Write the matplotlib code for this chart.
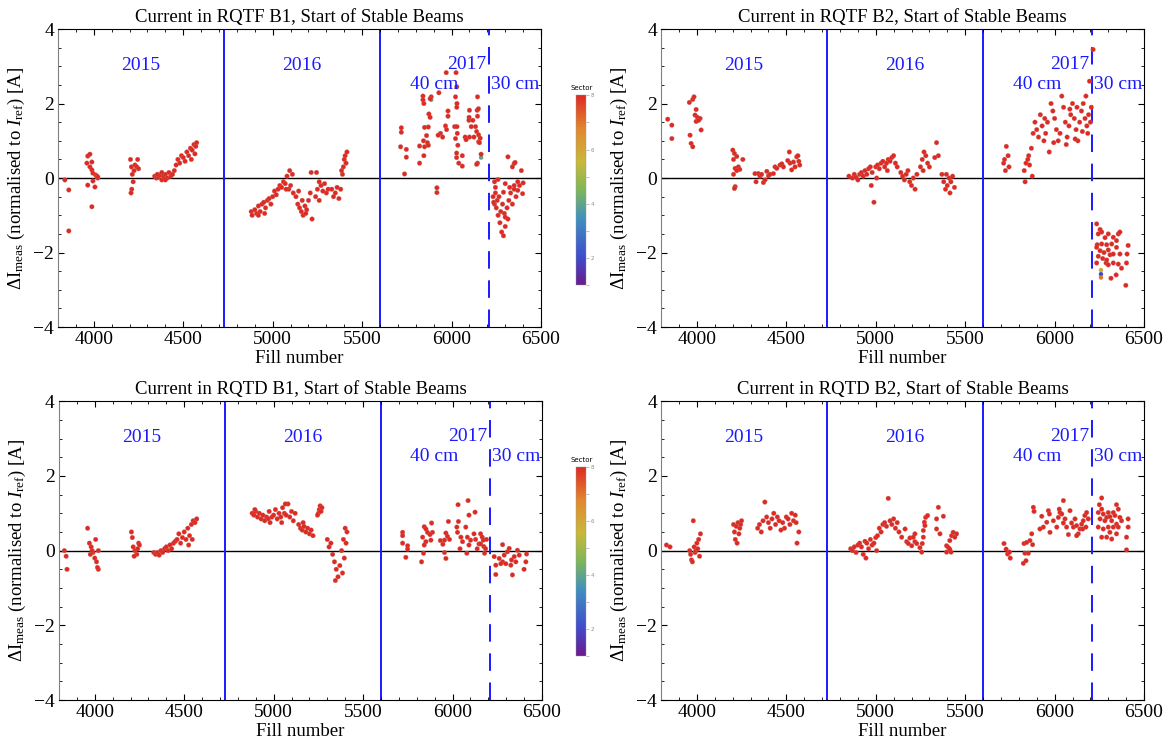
import numpy as np
import matplotlib
matplotlib.use('Agg')
import matplotlib.pyplot as plt
from matplotlib.colors import LinearSegmentedColormap, Normalize
from matplotlib.cm import ScalarMappable
from matplotlib.ticker import MultipleLocator

# ---- data: (fill number, delta I [A]) ----
# RQTF B1
rqtf_b1_fill = [3838, 3860, 3860, 3966, 3978, 3961, 3989, 3978, 3989, 3995, 4011, 4017, 4022, 3995, 3966,
                4006, 3989, 4022,
                4205, 4210, 4215, 4220, 4212, 4230, 4240, 4250, 4225, 4208, 4245,
                4340, 4350, 4360, 4370, 4380, 4390, 4400, 4410, 4420, 4430, 4440, 4450, 4355, 4400, 4380,
                4460, 4470, 4480, 4490, 4500, 4510, 4520, 4530, 4540, 4550, 4560, 4570, 4575, 4545, 4565,
                4880, 4885, 4900, 4910, 4920, 4930, 4940, 4950, 4960, 4970, 4980, 4990, 5000, 5010, 5020,
                5030, 5040, 5050, 5060, 5070, 5080, 5090, 5100, 5110, 5095, 5075, 5115, 4955, 4920,
                5130, 5140, 5150, 5160, 5170, 5180, 5190, 5200, 5210, 5220, 5165, 5145, 5185, 5215,
                5240, 5250, 5260, 5270, 5280, 5290, 5300, 5310, 5245, 5260,
                5330, 5340, 5350, 5360, 5370, 5380, 5390, 5395, 5400, 5405, 5410, 5415, 5385,
                5719, 5719, 5715, 5747, 5747, 5737, 5840, 5840, 5886, 5880, 5845, 5929, 5873, 5880, 5970,
                6025, 6029, 6022, 6030, 6029, 5980, 5980, 5966, 5972, 5938, 5950, 5925, 5849, 5870, 5860,
                5843, 5865, 5821, 5849, 5870, 5845, 5821, 5918, 5918, 6017, 6030, 6032, 6022, 6035, 6028,
                6028, 6040, 6060, 6060, 6100, 6098, 6097, 6119, 6110, 6134, 6143, 6145, 6145, 6150, 6140,
                6125, 6100, 6151, 6160, 6151, 6156, 6145, 6140, 6165, 6076, 6081,
                6315, 6350, 6355, 6340, 6259, 6240, 6300, 6325, 6350, 6400, 6397, 6370, 6290, 6245, 6232,
                6240, 6250, 6260, 6270, 6280, 6290, 6300, 6255, 6265, 6275, 6285, 6295, 6310, 6320, 6330,
                6340, 6350, 6360, 6370, 6380, 6390, 6300, 6315, 6245, 6235]
rqtf_b1_val = [-0.05, -0.32, -1.42, 0.59, 0.64, 0.40, 0.43, 0.30, 0.22, 0.13, 0.08, 0.05, 0.00, -0.08, -0.19,
               -0.24, -0.77, 0.03,
               0.50, 0.30, 0.10, -0.10, -0.30, 0.35, 0.30, 0.25, 0.20, -0.40, 0.50,
               0.05, 0.00, 0.02, 0.08, -0.05, 0.05, 0.10, 0.00, 0.15, 0.05, 0.10, 0.20, 0.10, -0.05, 0.15,
               0.35, 0.50, 0.40, 0.60, 0.55, 0.45, 0.70, 0.60, 0.80, 0.75, 0.90, 0.85, 0.95, 0.50, 0.65,
               -0.90, -1.00, -0.85, -0.95, -0.75, -0.90, -0.70, -0.65, -0.80, -0.60, -0.55, -0.70, -0.50, -0.35, -0.45,
               -0.30, -0.20, -0.25, -0.10, -0.15, 0.05, -0.30, -0.20, 0.10, 0.20, -0.30, -0.40, -0.95, -1.00,
               -0.50, -0.70, -0.80, -0.90, -1.00, -0.75, -0.85, -0.60, -0.40, -1.10, -0.60, -0.35, -0.95, 0.15,
               -0.50, -0.30, -0.10, -0.20, -0.35, -0.15, -0.40, -0.30, 0.15, -0.60,
               -0.30, -0.50, -0.40, -0.25, -0.55, -0.30, 0.10, 0.30, 0.50, 0.60, 0.40, 0.70, 0.20,
               1.35, 1.23, 0.84, 0.77, 0.56, 0.11, 2.20, 2.10, 2.18, 2.13, 2.00, 2.29, 1.72, 1.63, 2.83,
               2.83, 2.45, 2.18, 2.00, 1.90, 1.80, 1.66, 1.40, 1.30, 1.20, 1.10, 1.15, 1.36, 1.37, 1.14,
               1.00, 0.95, 0.86, 0.84, 0.88, 0.60, 0.40, -0.26, -0.39, 1.38, 1.38, 1.20, 1.06, 0.88, 0.67,
               0.55, 0.40, 0.60, 0.32, 1.82, 1.63, 1.55, 1.55, 1.38, 1.38, 1.82, 2.18, 1.66, 1.86, 1.25,
               1.10, 1.10, 1.16, 1.07, 0.97, 0.95, 0.40, 0.37, 0.64, 1.10, 1.03,
               0.57, 0.39, 0.42, 0.30, -0.04, -0.10, -0.15, -0.25, -0.20, -0.13, -0.42, -0.33, -0.38, -0.40, -0.50,
               -0.70, -0.80, -1.00, -1.20, -1.45, -1.55, -1.30, -0.60, -0.50, -0.90, -0.70, -0.95, -0.80, -0.60, -0.40,
               -0.70, -0.30, -0.50, -0.10, -0.20, 0.20, -1.05, -1.10, -0.25, -0.65]

# RQTF B2
rqtf_b2_fill = [3837, 3860, 3860, 3958, 3977, 3984, 3996, 3990, 4003, 4018, 3996, 4010, 4024, 3962, 3968, 3977,
                4201, 4210, 4205, 4223, 4214, 4232, 4240, 4257, 4205, 4214, 4210, 4223,
                4325, 4344, 4353, 4331, 4372, 4381, 4362, 4391, 4400, 4409, 4428, 4437, 4447, 4465, 4475,
                4484, 4517, 4521, 4540, 4549, 4530, 4508, 4558, 4570, 4565, 4575,
                4850, 4870, 4880, 4890, 4900, 4910, 4920, 4930, 4940, 4950, 4960, 4970, 4980, 4990, 5000,
                5010, 5020, 5030, 5040, 5050, 5060, 5070, 5080, 5090, 5100, 5110, 5120, 4975, 5005, 5065,
                5140, 5150, 5160, 5170, 5180, 5190, 5200, 5210, 5220, 5230, 5250, 5260, 5270, 5280, 5290,
                5265, 5300, 5340, 5330, 5350, 5370, 5380, 5390, 5400, 5410, 5420, 5430, 5440, 5395, 5415,
                5715, 5720, 5725, 5730, 5740, 5745, 5830, 5835, 5840, 5850, 5860, 5855, 5870, 5880, 5875,
                5890, 5900, 5910, 5920, 5930, 5940, 5950, 5960, 5970, 5980, 5990, 6000, 6010, 6020, 6030,
                6040, 6050, 6060, 6070, 6080, 6090, 6100, 6110, 6120, 6130, 6140, 6150, 6160, 6170, 6180,
                6190, 6200, 6195, 6185, 6175, 6205, 6065, 5995, 6115, 5945, 6085, 6125, 6155, 6215,
                6235, 6254, 6263, 6244, 6282, 6300, 6328, 6356, 6365, 6346, 6238, 6263, 6291, 6319, 6346,
                6235, 6254, 6276, 6300, 6310, 6269, 6288, 6300, 6328, 6356, 6374, 6402, 6405, 6411, 6315,
                6344, 6398, 6235, 6244, 6328, 6365, 6291]
rqtf_b2_val = [1.58, 1.42, 1.06, 2.03, 2.11, 2.18, 1.84, 1.69, 1.63, 1.60, 1.52, 1.55, 1.29, 1.15, 0.93, 0.84,
               0.75, 0.66, 0.50, 0.58, 0.26, 0.30, 0.23, 0.50, 0.10, -0.23, -0.28, 0.20,
               0.12, 0.12, 0.05, -0.10, -0.12, -0.05, 0.10, 0.18, 0.06, 0.10, 0.12, 0.30, 0.26, 0.35, 0.38,
               0.30, 0.70, 0.40, 0.43, 0.30, 0.22, 0.47, 0.57, 0.45, 0.60, 0.35,
               0.05, 0.00, 0.10, 0.02, -0.05, 0.10, 0.15, 0.05, 0.20, 0.10, 0.25, 0.30, 0.15, -0.65, 0.30,
               0.35, 0.25, 0.40, 0.45, 0.30, 0.40, 0.50, 0.45, 0.55, 0.60, 0.40, 0.30, -0.20, 0.00, 0.20,
               0.15, 0.05, -0.05, 0.10, 0.20, -0.10, -0.20, 0.00, -0.30, 0.10, 0.30, 0.50, 0.70, 0.60, 0.40,
               0.20, 0.30, 0.95, 0.55, 0.60, 0.10, -0.10, -0.30, -0.20, 0.00, -0.10, 0.05, -0.25, 0.10, -0.40,
               0.40, 0.50, 0.20, 0.85, 0.60, 0.30, 0.20, -0.10, 0.40, 0.50, 0.35, 0.60, 0.80, 1.20, 0.05,
               1.50, 1.30, 1.10, 1.70, 1.40, 1.00, 1.20, 1.50, 0.70, 2.00, 1.80, 1.60, 1.30, 1.00, 1.20,
               2.20, 1.90, 1.50, 1.10, 1.40, 1.70, 2.00, 1.60, 1.30, 1.00, 1.50, 1.80, 2.00, 1.60, 1.40,
               1.70, 1.50, 2.60, 1.20, 2.20, 1.90, 0.90, 0.95, 1.05, 1.60, 1.85, 1.90, 1.25, 3.45,
               -1.23, -1.38, -1.45, -1.50, -1.60, -1.50, -1.59, -1.50, -1.45, -1.68, -1.79, -1.77, -1.79, -1.77, -1.86,
               -1.86, -1.95, -2.00, -1.93, -2.06, -2.16, -2.28, -2.33, -2.28, -2.31, -2.42, -2.28, -2.04, -1.81, -2.69,
               -2.60, -2.88, -2.28, -2.10, -2.04, -2.04, -2.20]

# RQTD B1
rqtd_b1_fill = [3830, 3840, 3845, 3960, 3970, 3980, 3990, 4000, 4010, 4020, 3975, 4005, 4015, 3985, 4020,
                4205, 4210, 4215, 4225, 4235, 4245, 4250, 4240, 4220,
                4330, 4340, 4350, 4360, 4370, 4380, 4390, 4400, 4410, 4420, 4430, 4440, 4450, 4460, 4470,
                4480, 4490, 4500, 4510, 4520, 4530, 4540, 4550, 4560, 4570, 4545, 4525,
                4880, 4890, 4900, 4910, 4920, 4930, 4940, 4950, 4960, 4970, 4980, 4990, 5000, 5010, 5020,
                5030, 5040, 5050, 5060, 5070, 5080, 5090, 5100, 5110, 5120, 4895, 4975, 5045, 5065,
                5140, 5150, 5160, 5170, 5180, 5190, 5200, 5210, 5220, 5165,
                5250, 5255, 5260, 5265, 5270, 5245,
                5300, 5310, 5320, 5330, 5340, 5350, 5360, 5345, 5370, 5380, 5390, 5400, 5410, 5395, 5385, 5405,
                5721, 5721, 5721, 5749, 5749, 5739, 5842, 5851, 5860, 5883, 5888, 5874, 5833, 5851, 5842,
                5879, 5838, 5827, 5932, 5946, 5963, 5972, 5955, 5983, 5955, 5963, 5977, 6031, 6033, 6024,
                6028, 6047, 6056, 6042, 6087, 6092, 6126, 6074, 6083, 6101, 6092, 6080, 6120, 6129, 6148,
                6138, 6157, 6166, 6172, 6157, 6175, 6190, 6185, 6179,
                6280, 6233, 6242, 6242, 6261, 6280, 6289, 6307, 6317, 6330, 6345, 6354, 6363, 6373, 6335,
                6400, 6414, 6410, 6298, 6270, 6326]
rqtd_b1_val = [0.00, -0.15, -0.50, 0.60, 0.20, 0.10, -0.05, -0.20, -0.30, -0.50, -0.10, 0.30, -0.45, 0.00, 0.00,
               0.50, 0.35, 0.10, 0.00, -0.10, 0.20, 0.15, 0.05, -0.15,
               -0.05, -0.10, -0.05, -0.12, 0.00, -0.05, 0.05, 0.10, 0.00, 0.15, 0.05, 0.20, 0.25, 0.30, 0.45,
               0.20, 0.35, 0.50, 0.30, 0.60, 0.40, 0.70, 0.80, 0.75, 0.85, 0.30, 0.15,
               1.00, 0.95, 1.05, 0.90, 1.00, 0.85, 0.95, 0.80, 0.90, 0.85, 0.75, 0.90, 0.95, 1.10, 0.85,
               1.00, 0.90, 1.15, 1.00, 0.95, 1.25, 0.90, 1.05, 0.80, 1.00, 1.10, 1.05, 0.75, 1.25,
               0.70, 0.60, 0.55, 0.65, 0.50, 0.60, 0.45, 0.55, 0.40, 0.75,
               1.00, 1.10, 1.20, 1.05, 1.15, 0.95,
               0.30, 0.10, 0.20, -0.10, -0.30, -0.50, -0.70, -0.80, -0.40, 0.00, 0.30, 0.60, 0.50, -0.20, -0.60, 0.20,
               0.49, 0.40, 0.20, 0.13, 0.04, -0.18, 0.64, 0.58, 0.49, 0.74, 0.49, 0.43, 0.36, 0.24, 0.15,
               0.28, -0.07, -0.30, 0.27, 0.17, 0.47, 0.38, 0.28, 0.30, -0.05, -0.21, 0.78, 1.23, 0.78, 0.63,
               0.49, 0.36, 0.24, 0.05, 1.34, 0.95, 1.03, 0.63, 0.36, 0.28, 0.15, -0.07, 0.45, 0.30, 0.18,
               0.05, 0.45, 0.36, 0.28, 0.18, 0.11, 0.30, 0.05, -0.07,
               0.16, -0.16, -0.39, -0.64, -0.21, -0.30, -0.12, -0.03, 0.06, -0.25, -0.16, -0.30, 0.01, -0.12, -0.65,
               -0.50, -0.09, -0.30, -0.35, -0.35, -0.39]

# RQTD B2
rqtd_b2_fill = [3830, 3850, 3960, 3965, 3970, 3975, 3980, 3985, 3990, 4000, 4010, 4015, 4020, 3995, 4005,
                4205, 4210, 4215, 4220, 4230, 4240, 4250, 4225, 4235, 4245,
                4340, 4350, 4360, 4370, 4380, 4390, 4400, 4410, 4420, 4430, 4440, 4450, 4460, 4470, 4480,
                4490, 4500, 4510, 4520, 4530, 4540, 4550, 4560, 4570, 4555,
                4860, 4870, 4880, 4890, 4900, 4910, 4920, 4930, 4940, 4950, 4960, 4970, 4980, 4990, 5000,
                5010, 5020, 5030, 5040, 5050, 5060, 5070, 5080, 5090, 5100, 5110, 5120, 5130, 4945, 5005,
                5145, 5164, 5173, 5182, 5191, 5201, 5210, 5219, 5219, 5229, 5247, 5257, 5260, 5266, 5266,
                5272, 5279, 5290, 5275, 5340, 5350, 5340, 5359, 5378, 5396, 5396, 5405, 5414, 5424, 5433,
                5442, 5452, 5421, 5414,
                5717, 5729, 5737, 5752, 5748, 5825, 5840, 5834, 5853, 5829, 5844, 5862, 5872, 5877, 5881,
                5885, 5918, 5928, 5937, 5956, 5965, 5971, 5974, 5993, 6012, 6021, 6026, 6030, 6040, 6049,
                6049, 6058, 6067, 6077, 6086, 6095, 6105, 6114, 6123, 6132, 6142, 6151, 6160, 6169, 6179,
                6188, 6157, 6175, 6123,
                6263, 6250, 6263, 6244, 6272, 6254, 6281, 6291, 6300, 6309, 6319, 6328, 6337, 6346, 6356,
                6365, 6346, 6328, 6300, 6272, 6244, 6291, 6319, 6346, 6374, 6411, 6411, 6402, 6402, 6356,
                6263, 6309]
rqtd_b2_val = [0.15, 0.10, 0.00, -0.10, -0.25, -0.30, 0.80, 0.10, -0.05, 0.20, 0.30, -0.15, 0.45, 0.00, 0.05,
               0.70, 0.50, 0.30, 0.65, 0.75, 0.60, 0.80, 0.20, 0.45, 0.70,
               0.60, 0.70, 0.50, 0.80, 1.30, 0.90, 0.75, 0.60, 0.85, 1.00, 0.70, 0.90, 0.80, 0.55, 0.75,
               0.60, 0.90, 0.85, 0.70, 1.00, 0.80, 0.95, 0.20, 0.50, 0.75,
               0.05, 0.00, 0.10, -0.05, 0.15, 0.20, 0.10, -0.10, 0.25, 0.20, 0.05, 0.30, 0.15, 0.20, 0.35,
               0.40, 0.60, 0.50, 0.70, 0.75, 0.65, 1.40, 0.80, 0.70, 0.85, 0.60, 0.75, 0.50, -0.20, 0.00,
               0.36, 0.58, 0.24, 0.19, 0.34, 0.13, 0.36, 0.45, 0.24, 0.19, 0.08, -0.04, 0.19, 0.36, 0.54,
               0.76, 0.89, 0.94, 0.67, 0.85, 1.16, 0.58, 0.45, 0.92, 0.13, -0.04, 0.09, 0.27, 0.40, 0.49,
               0.36, 0.45, -0.04, 0.04,
               0.19, 0.04, -0.09, -0.20, -0.04, -0.34, -0.27, -0.07, -0.07, 0.19, 0.22, 0.27, 0.45, 0.16, 1.16,
               1.05, 0.58, 0.92, 0.63, 0.76, 1.07, 0.98, 0.49, 0.80, 0.63, 0.89, 1.11, 1.02, 0.98, 1.34,
               0.74, 0.85, 0.63, 0.43, 1.07, 0.74, 0.63, 0.85, 0.67, 0.45, 0.58, 0.71, 0.80, 0.94, 1.02,
               0.85, 0.58, 0.63, 0.40,
               1.41, 1.23, 1.11, 1.02, 0.98, 0.85, 0.80, 0.89, 1.02, 0.91, 0.80, 1.02, 0.94, 1.23, 1.11,
               0.89, 0.71, 0.63, 0.63, 0.58, 0.63, 0.36, 0.31, 0.45, 0.80, 0.85, 0.63, 0.36, 0.02, 0.63,
               0.36, 0.49]

# a few points from other sectors that show through the red ones
odd_b1_fill = [5886, 6165]
odd_b1_val = [2.10, 0.55]
odd_b1_sector = [4, 4]
odd_b2_fill = [6259, 6259, 6259]
odd_b2_val = [-2.47, -2.58, -2.67]
odd_b2_sector = [6, 2, 7]

titles = ['Current in RQTF B1, Start of Stable Beams', 'Current in RQTF B2, Start of Stable Beams',
          'Current in RQTD B1, Start of Stable Beams', 'Current in RQTD B2, Start of Stable Beams']

# year boundaries and the beta* change
year_lines = [4726, 5600]
beta_line = 6208

# Mathematica "Rainbow"-like map
rainbow = LinearSegmentedColormap.from_list('rainbow_mma', [
    (0.00, '#6a1c8c'), (0.15, '#3f4ccc'), (0.35, '#3f90bf'), (0.50, '#7cb75a'),
    (0.65, '#c9b83a'), (0.82, '#e08a30'), (1.00, '#de2a22')])
norm = Normalize(vmin=1, vmax=8)

plt.rcParams['font.family'] = ['Liberation Serif', 'DejaVu Serif']
plt.rcParams['mathtext.fontset'] = 'custom'
plt.rcParams['mathtext.rm'] = 'Liberation Serif'
plt.rcParams['mathtext.it'] = 'Liberation Serif:italic'
plt.rcParams['mathtext.bf'] = 'Liberation Serif:bold'

fig = plt.figure(figsize=(11.68, 7.45), dpi=100)

# axes boxes in figure fractions (left, bottom, width, height)
boxes = [(0.0497, 0.561, 0.4135, 0.400), (0.566, 0.561, 0.4135, 0.400),
         (0.0505, 0.0604, 0.4135, 0.401), (0.566, 0.0604, 0.4135, 0.401)]
data = [(rqtf_b1_fill, rqtf_b1_val), (rqtf_b2_fill, rqtf_b2_val),
        (rqtd_b1_fill, rqtd_b1_val), (rqtd_b2_fill, rqtd_b2_val)]

for i in range(4):
    ax = fig.add_axes(boxes[i])
    fill, val = data[i]
    ax.axhline(0, color='black', lw=1.0, zorder=1)
    for xl in year_lines:
        ax.axvline(xl, color='#1a1aff', lw=1.4, zorder=1)
    ax.axvline(beta_line, color='#1a1aff', lw=1.4, ls=(0, (9, 6)), zorder=1)

    ax.scatter(fill, val, c=[8] * len(fill), cmap=rainbow, norm=norm, s=11,
               edgecolors='#c0706a', linewidths=0.2, zorder=3)
    if i == 0:
        ax.scatter(odd_b1_fill, odd_b1_val, c=odd_b1_sector, cmap=rainbow, norm=norm, s=10,
                   linewidths=0, zorder=2)
    if i == 1:
        ax.scatter(odd_b2_fill, odd_b2_val, c=odd_b2_sector, cmap=rainbow, norm=norm, s=10,
                   linewidths=0, zorder=4)

    ax.text(4262, 3.02, '2015', color='#1a1aff', fontsize=14, ha='center', va='center')
    ax.text(5160, 3.02, '2016', color='#1a1aff', fontsize=14, ha='center', va='center')
    ax.text(6195, 3.05, '2017', color='#1a1aff', fontsize=14, ha='right', va='center')
    ax.text(5900, 2.52, '40 cm', color='#1a1aff', fontsize=14, ha='center', va='center')
    ax.text(6222, 2.52, '30 cm', color='#1a1aff', fontsize=14, ha='left', va='center')

    ax.set_xlim(3800, 6500)
    ax.set_ylim(-4, 4)
    ax.xaxis.set_major_locator(MultipleLocator(500))
    ax.xaxis.set_minor_locator(MultipleLocator(100))
    ax.yaxis.set_major_locator(MultipleLocator(2))
    ax.yaxis.set_minor_locator(MultipleLocator(0.5))
    ax.tick_params(which='both', direction='in', top=True, right=True, labelsize=14, pad=3)
    ax.tick_params(which='major', length=4, width=0.8)
    ax.tick_params(which='minor', length=2, width=0.6)
    ax.spines['left'].set_color('0.5')
    ax.set_title(titles[i], fontsize=13.5, pad=5)
    ax.set_xlabel('Fill number', fontsize=13.5, labelpad=1)
    ax.set_ylabel(r'$\Delta\mathrm{I}_{\mathrm{meas}}$ (normalised to $I_{\mathrm{ref}}$) [A]',
                  fontsize=13.5, labelpad=4)

# colour bars next to the left column only
for cbox in [(0.4935, 0.617, 0.0086, 0.255), (0.4935, 0.120, 0.0086, 0.253)]:
    cax = fig.add_axes(cbox)
    cb = fig.colorbar(ScalarMappable(norm=norm, cmap=rainbow), cax=cax)
    cb.set_ticks([2, 4, 6, 8])
    cb.ax.yaxis.set_minor_locator(MultipleLocator(1))
    cb.ax.tick_params(which='both', labelsize=4, colors='0.55', length=2, width=0.4, pad=1)
    for lab in cb.ax.get_yticklabels():
        lab.set_family('DejaVu Sans')
    cb.outline.set_linewidth(0.3)
    cb.outline.set_edgecolor('0.6')
    cax.set_title('Sector', fontsize=5, family='DejaVu Sans', pad=4)

fig.savefig('out.png', dpi=100)
